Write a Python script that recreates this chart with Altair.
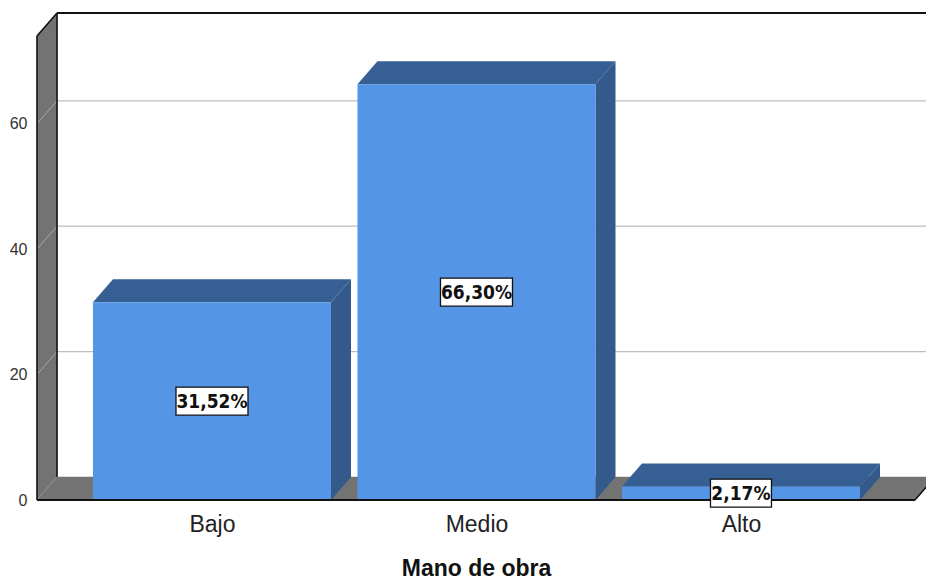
import json
import altair as alt
import pandas as pd

# ---- data -------------------------------------------------------------
categories = ["Bajo", "Medio", "Alto"]
percents = [31.52, 66.30, 2.17]
value_labels = ["31,52%", "66,30%", "2,17%"]
y_ticks = [0, 20, 40, 60]

# ---- geometry of the pseudo-3D frame ------------------------------------
W, H = 878, 464                 # front plane of the plot area, px
X_MIN, X_MAX = -0.6616, 2.658   # x scale domain (category index units)
Y_MAX = 74.0                    # y scale domain top (percent)
PX_X = W / (X_MAX - X_MIN)
PX_Y = H / Y_MAX
DX = 20 / PX_X                  # depth offset, x direction
DY = 23 / PX_Y                  # depth offset, y direction
HALF = 0.45                     # half bar width (category units)

FRONT = "#5595e5"
TOP = "#365f93"
SIDE = "#345a8b"
WALL = "#737373"

xs = alt.Scale(domain=[X_MIN, X_MAX], nice=False, zero=False)
ys = alt.Scale(domain=[0, Y_MAX], nice=False, zero=False)

x_axis = alt.Axis(
    values=[0, 1, 2], labelExpr=f"{json.dumps(categories)}[datum.value]",
    domain=False, ticks=False, grid=False, labelFontSize=23,
    labelFont="Liberation Sans", labelColor="#222222", labelPadding=13,
    labelFlush=False, labelOverlap=False,
    title="Mano de obra", titleFont="Liberation Sans", titleFontSize=23,
    titleFontWeight="bold", titleColor="#111111", titlePadding=21)
y_axis = alt.Axis(
    values=y_ticks, domain=False, ticks=False, grid=False,
    labelFontSize=16, labelFont="Liberation Sans", labelColor="#333333",
    labelPadding=10, title=None)


def X(f):
    return alt.X(f, type="quantitative", scale=xs, axis=x_axis)


def Y(f):
    return alt.Y(f, type="quantitative", scale=ys, axis=y_axis, stack=None)


def X2(f):
    return alt.X2(f)


def Y2(f):
    return alt.Y2(f)


# ---- walls and floor -------------------------------------------------------
left_wall = pd.DataFrame({
    "x": [X_MIN, X_MIN + DX],
    "y": [0, DY],
    "y2": [Y_MAX, Y_MAX + DY],
})
floor = pd.DataFrame({
    "y": [0, DY],
    "x": [X_MIN, X_MIN + DX],
    "x2": [X_MAX, X_MAX + DX],
})

left_wall_layer = alt.Chart(left_wall).mark_area(
    orient="vertical", color=WALL, opacity=1
).encode(x=X("x"), y=Y("y"), y2=Y2("y2"))

floor_layer = alt.Chart(floor).mark_area(
    orient="horizontal", color=WALL, opacity=1
).encode(y=Y("y"), x=X("x"), x2=X2("x2"))

# grid lines: on the back wall and across the left wall
grid = pd.DataFrame({"v": y_ticks})
grid["yb"] = grid["v"] + DY
grid["xb0"] = X_MIN + DX
grid["xb1"] = X_MAX + DX
grid["xf"] = X_MIN

back_grid = alt.Chart(grid).mark_rule(color="#bdbdbd", strokeWidth=1.2).encode(
    x=X("xb0"), x2=X2("xb1"), y=Y("yb"))
side_grid = alt.Chart(grid).mark_rule(color="#a9a9a9", strokeWidth=1).encode(
    x=X("xf"), x2=X2("xb0"), y=Y("v"), y2=Y2("yb"))

# dark frame edges
edges = pd.DataFrame({
    "x":  [X_MIN + DX, X_MIN + DX, X_MIN, X_MIN, X_MIN, X_MAX],
    "x2": [X_MAX + DX, X_MIN + DX, X_MIN, X_MIN + DX, X_MAX, X_MAX + DX],
    "y":  [Y_MAX + DY, DY, 0, Y_MAX, 0, 0],
    "y2": [Y_MAX + DY, Y_MAX + DY, Y_MAX, Y_MAX + DY, 0, DY],
    "w":  [2.2, 1.6, 1.6, 1.6, 1.8, 1.6],
})
edge_layer = alt.Chart(edges).mark_rule(color="#111111").encode(
    x=X("x"), x2=X2("x2"), y=Y("y"), y2=Y2("y2"),
    strokeWidth=alt.StrokeWidth("w:Q", scale=None))

# ---- bars --------------------------------------------------------------------
rows_top, rows_side, rows_front, rows_lab = [], [], [], []
for i, (cat, v, lab) in enumerate(zip(categories, percents, value_labels)):
    rows_top += [
        {"cat": cat, "y": v, "x": i - HALF, "x2": i + HALF},
        {"cat": cat, "y": v + DY, "x": i - HALF + DX, "x2": i + HALF + DX},
    ]
    rows_side += [
        {"cat": cat, "x": i + HALF, "y": 0, "y2": v},
        {"cat": cat, "x": i + HALF + DX, "y": DY, "y2": v + DY},
    ]
    rows_front.append({"cat": cat, "x": i - HALF, "x2": i + HALF, "y": 0, "y2": v})
    bw = (11 * len(lab) + 6) / PX_X / 2
    bh = 28 / PX_Y / 2
    rows_lab.append({"cat": cat, "label": lab, "cx": i, "cy": v / 2,
                     "x": i - bw, "x2": i + bw, "y": v / 2 - bh, "y2": v / 2 + bh})

top_df = pd.DataFrame(rows_top)
side_df = pd.DataFrame(rows_side)
front_df = pd.DataFrame(rows_front)
lab_df = pd.DataFrame(rows_lab)

top_layer = alt.Chart(top_df).mark_area(orient="horizontal", color=TOP, opacity=1).encode(
    y=Y("y"), x=X("x"), x2=X2("x2"), detail="cat:N")
side_layer = alt.Chart(side_df).mark_area(orient="vertical", color=SIDE, opacity=1).encode(
    x=X("x"), y=Y("y"), y2=Y2("y2"), detail="cat:N")
front_layer = alt.Chart(front_df).mark_rect(color=FRONT).encode(
    x=X("x"), x2=X2("x2"), y=Y("y"), y2=Y2("y2"))

box_layer = alt.Chart(lab_df).mark_rect(
    fill="white", stroke="#111111", strokeWidth=1.3
).encode(x=X("x"), x2=X2("x2"), y=Y("y"), y2=Y2("y2"))
text_layer = alt.Chart(lab_df).mark_text(
    font="DejaVu Sans Condensed", fontSize=19, fontWeight="bold",
    color="#111111", baseline="middle", dy=1
).encode(x=X("cx"), y=Y("cy"), text="label:N")

chart = alt.layer(
    back_grid, left_wall_layer, side_grid, floor_layer,
    side_layer, top_layer, front_layer, edge_layer, box_layer, text_layer,
).properties(
    width=W, height=H,
    autosize=alt.AutoSizeParams(type="none"),
    padding={"left": 37, "top": 36, "right": 11, "bottom": 82},
    background="white",
).configure_view(stroke=None)

chart.save("out.html", embed_options={"renderer": "svg", "actions": False})
